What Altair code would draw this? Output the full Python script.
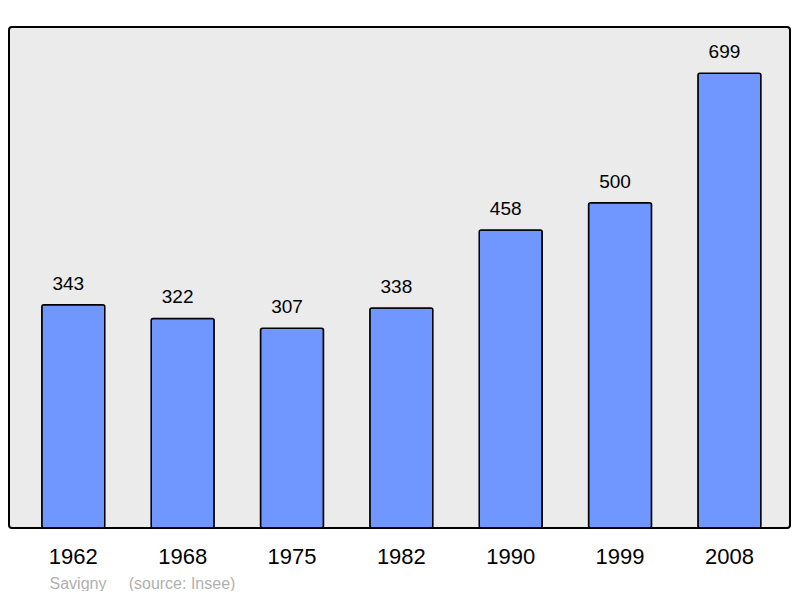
import altair as alt
import pandas as pd

years = ["1962", "1968", "1975", "1982", "1990", "1999", "2008"]
population = [343, 322, 307, 338, 458, 500, 699]
footer = "Savigny\u00a0\u00a0\u00a0\u00a0\u00a0(source: Insee)"

df = pd.DataFrame({"year": years, "pop": population})

x = alt.X(
    "year:N",
    sort=years,
    scale=alt.Scale(paddingInner=0.424, paddingOuter=0.283, align=0.53),
    axis=alt.Axis(
        title=footer,
        labelAngle=0,
        labelFontSize=22,
        labelColor="black",
        labelFont="Liberation Sans",
        labelPadding=18,
        ticks=False,
        domain=False,
        grid=False,
        titleFont="Liberation Sans",
        titleFontSize=16,
        titleFontWeight="normal",
        titleColor="#b0b0b0",
        titleAnchor="start",
        titleAlign="left",
        titleBaseline="alphabetic",
        titleX=40,
        titleY=60,
    ),
)
y = alt.Y("pop:Q", scale=alt.Scale(domain=[0, 770], nice=False), axis=None)

bars = alt.Chart(df).mark_bar(
    color="#7096ff", stroke="black", strokeWidth=1.5, cornerRadius=2
).encode(x=x, y=y)

labels = alt.Chart(df).mark_text(
    baseline="alphabetic", dy=-15, dx=-5, fontSize=19, font="Liberation Sans", color="black"
).encode(x=x, y=y, text="pop:Q")

chart = (
    alt.layer(bars, labels)
    .properties(
        width=781,
        height=501,
        background="white",
        padding={"left": 1, "top": 19, "right": 2, "bottom": 0},
    )
    .configure_view(fill="#ebebeb", stroke="black", strokeWidth=2, cornerRadius=3)
)

chart.save("out.html", embed_options={"renderer": "svg", "actions": False})
